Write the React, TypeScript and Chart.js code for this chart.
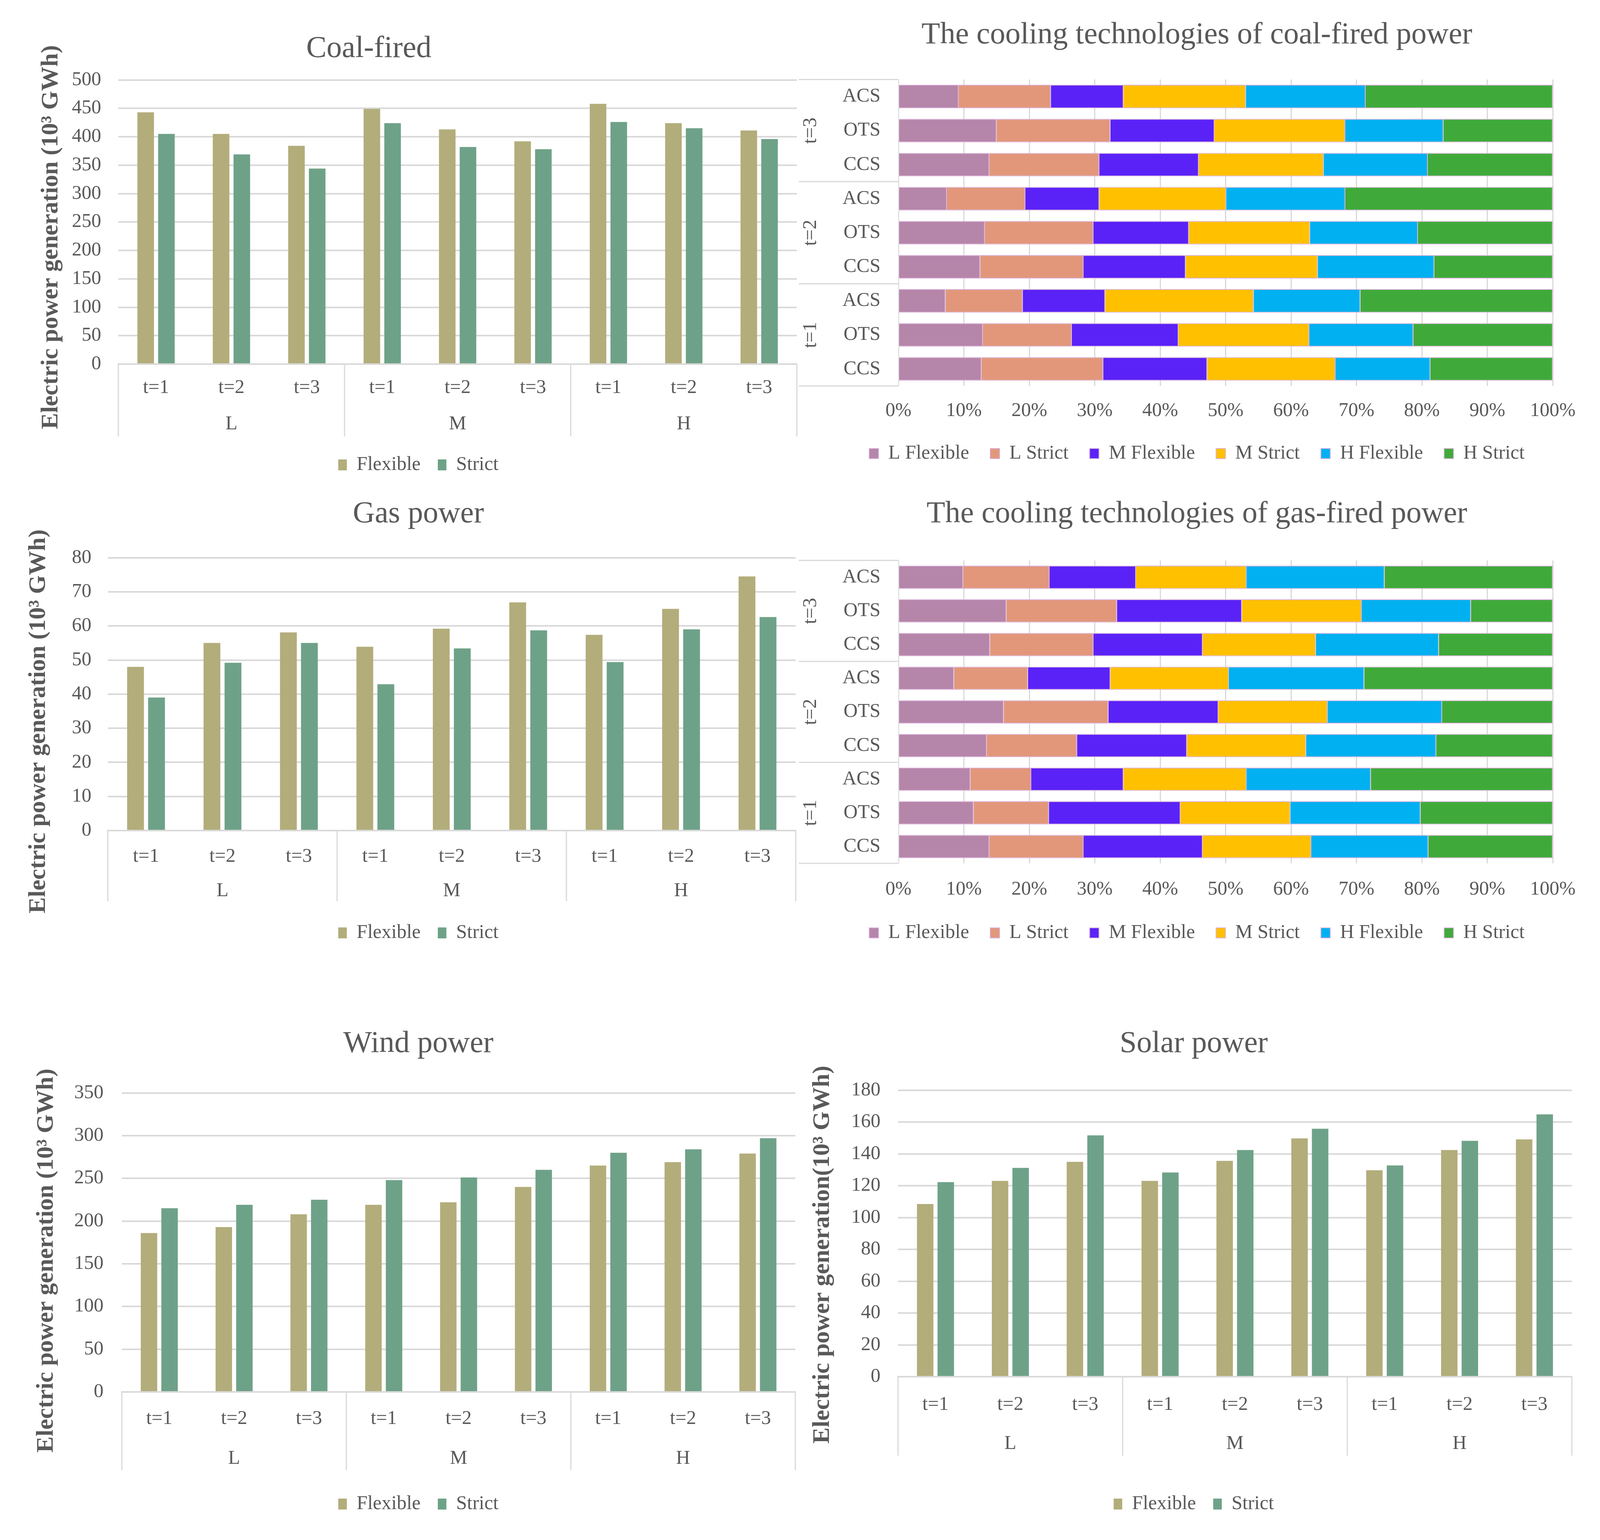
import React, { useRef, useEffect } from 'react';
import { Chart, registerables } from 'chart.js';

Chart.register(...registerables);

const FONT = "'Liberation Serif', 'Times New Roman', serif";
const TEXT = '#595959';
const GRID = '#d9d9d9';
const FLEX_COLOR = '#b3ad7b';
const STRICT_COLOR = '#6ea288';
const COOLING_COLORS = ['#b685aa', '#e2977b', '#5a22f6', '#ffc000', '#00b0f0', '#3faa3a'];

// categories
const barLabels = ['t=1', 't=2', 't=3', 't=1', 't=2', 't=3', 't=1', 't=2', 't=3'];
const scenarios = ['L', 'M', 'H'];
const coolingRows = ['ACS', 'OTS', 'CCS', 'ACS', 'OTS', 'CCS', 'ACS', 'OTS', 'CCS'];
const coolingGroups = ['t=3', 't=2', 't=1'];
const coolingSeries = ['L Flexible', 'L Strict', 'M Flexible', 'M Strict', 'H Flexible', 'H Strict'];

// generation (10^3 GWh)
const coalFlexible = [443, 405, 384, 449, 413, 392, 458, 424, 411];
const coalStrict = [405, 369, 344, 424, 382, 378, 426, 415, 396];
const gasFlexible = [48.0, 55.0, 58.1, 53.9, 59.2, 66.9, 57.4, 65.0, 74.5];
const gasStrict = [39.0, 49.2, 55.0, 42.9, 53.4, 58.7, 49.4, 59.0, 62.6];
const windFlexible = [186, 193, 208, 219, 222, 240, 265, 269, 279];
const windStrict = [215, 219, 225, 248, 251, 260, 280, 284, 297];
const solarFlexible = [108.5, 123, 135, 123, 135.6, 149.7, 129.7, 142.4, 149.1];
const solarStrict = [122.2, 131.2, 151.6, 128.3, 142.4, 155.8, 132.7, 148.2, 164.8];

// cooling technology shares (%), rows top to bottom
const coalLFlex = [9.2, 15.0, 13.9, 7.4, 13.2, 12.5, 7.2, 12.9, 12.7];
const coalLStrict = [14.1, 17.4, 16.8, 12.0, 16.6, 15.8, 11.8, 13.6, 18.6];
const coalMFlex = [11.1, 15.9, 15.2, 11.3, 14.6, 15.6, 12.6, 16.3, 15.9];
const coalMStrict = [18.7, 20.0, 19.1, 19.4, 18.5, 20.2, 22.7, 20.0, 19.6];
const coalHFlex = [18.3, 15.0, 15.9, 18.2, 16.5, 17.8, 16.3, 15.9, 14.5];
const coalHStrict = [28.6, 16.7, 19.1, 31.7, 20.6, 18.1, 29.4, 21.3, 18.7];

const gasLFlex = [9.9, 16.5, 14.0, 8.5, 16.1, 13.5, 11.0, 11.5, 13.9];
const gasLStrict = [13.2, 16.9, 15.8, 11.3, 16.0, 13.8, 9.3, 11.5, 14.4];
const gasMFlex = [13.2, 19.1, 16.7, 12.6, 16.8, 16.8, 14.1, 20.1, 18.2];
const gasMStrict = [16.9, 18.3, 17.3, 18.1, 16.7, 18.2, 18.8, 16.8, 16.6];
const gasHFlex = [21.1, 16.7, 18.8, 20.7, 17.5, 19.9, 19.0, 19.9, 17.9];
const gasHStrict = [25.7, 12.5, 17.4, 28.8, 16.9, 17.8, 27.8, 20.2, 19.0];

// draws the outer category level (L/M/H or t=3/t=2/t=1) with separator lines
const groupAxis = {
  id: 'groupAxis',
  afterDraw(chart: any, _args: any, opts: any) {
    const groups: string[] = opts.groups;
    if (!groups || !groups.length) return;
    const { ctx, chartArea } = chart;
    const horizontal = opts.axis === 'x';
    const scale = chart.scales[opts.axis];
    const count = scale.getLabels().length;
    const per = count / groups.length;
    const edge = (i: number) => {
      if (i <= 0) return horizontal ? chartArea.left : chartArea.top;
      if (i >= count) return horizontal ? chartArea.right : chartArea.bottom;
      return (scale.getPixelForValue(i - 1) + scale.getPixelForValue(i)) / 2;
    };
    ctx.save();
    ctx.strokeStyle = GRID;
    ctx.lineWidth = 3;
    ctx.fillStyle = TEXT;
    ctx.font = `${opts.size}px ${FONT}`;
    ctx.textAlign = 'center';
    ctx.textBaseline = 'middle';
    for (let g = 0; g <= groups.length; g++) {
      const p = edge(g * per);
      ctx.beginPath();
      if (horizontal) {
        ctx.moveTo(p, chartArea.bottom);
        ctx.lineTo(p, chartArea.bottom + opts.lineLength);
      } else {
        ctx.moveTo(opts.lineStart, p);
        ctx.lineTo(chartArea.left, p);
      }
      ctx.stroke();
    }
    groups.forEach((label, g) => {
      const c = (edge(g * per) + edge((g + 1) * per)) / 2;
      if (horizontal) {
        ctx.fillText(label, c, chartArea.bottom + opts.labelOffset);
      } else {
        ctx.save();
        ctx.translate(opts.labelOffset, c);
        ctx.rotate(-Math.PI / 2);
        ctx.fillText(label, 0, 0);
        ctx.restore();
      }
    });
    ctx.restore();
  },
};

// empty right-hand axis that keeps room to the right of the plot
const spacerAxis = (width: number) => ({
  type: 'linear',
  position: 'right',
  display: true,
  ticks: { display: false },
  grid: { display: false, drawTicks: false },
  border: { display: false },
  afterFit: (s: any) => { s.width = width; },
});

interface BarLayout {
  title: string;
  yTitle: string;
  flexible: number[];
  strict: number[];
  max: number;
  step: number;
  titlePad: { top: number; bottom: number };
  yWidth: number;
  yTitlePad: number;
  yTickPad: number;
  xHeight: number;
  xTickPad: number;
  groupOffset: number;
  sepLength: number;
  rightSpace: number;
}

const makeBarConfig = (p: BarLayout) => (): any => ({
  type: 'bar',
  data: {
    labels: barLabels,
    datasets: [
      { label: 'Flexible', data: p.flexible, backgroundColor: FLEX_COLOR },
      { label: 'Strict', data: p.strict, backgroundColor: STRICT_COLOR },
    ],
  },
  options: {
    animation: false,
    responsive: true,
    maintainAspectRatio: false,
    layout: { padding: 0 },
    datasets: { bar: { categoryPercentage: 0.55, barPercentage: 0.8 } },
    plugins: {
      title: {
        display: true,
        text: p.title,
        color: TEXT,
        font: { family: FONT, size: 78, weight: 'normal' },
        padding: p.titlePad,
      },
      legend: {
        position: 'bottom',
        labels: { color: TEXT, font: { family: FONT, size: 50 }, boxWidth: 22, boxHeight: 28, padding: 44 },
      },
      tooltip: { enabled: false },
      groupAxis: { axis: 'x', groups: scenarios, size: 50, labelOffset: p.groupOffset, lineLength: p.sepLength },
    },
    scales: {
      x: {
        ticks: { color: TEXT, font: { family: FONT, size: 50 }, padding: p.xTickPad, autoSkip: false, maxRotation: 0 },
        grid: { display: false, drawTicks: false },
        border: { display: true, color: GRID, width: 4 },
        afterFit: (s: any) => { s.height = p.xHeight; },
      },
      y: {
        min: 0,
        max: p.max,
        ticks: { stepSize: p.step, color: TEXT, font: { family: FONT, size: 50 }, padding: p.yTickPad },
        grid: { color: GRID, lineWidth: 4, drawTicks: false },
        border: { display: false },
        title: {
          display: true,
          text: p.yTitle,
          color: TEXT,
          font: { family: FONT, size: 62, weight: 'bold' },
          padding: { top: p.yTitlePad, bottom: 0 },
        },
        afterFit: (s: any) => { s.width = p.yWidth; },
      },
      spacer: spacerAxis(p.rightSpace),
    },
  },
  plugins: [groupAxis],
});

interface CoolingLayout {
  title: string;
  series: number[][];
  titlePad: { top: number; bottom: number };
  xHeight: number;
  xTickPad: number;
}

const makeCoolingConfig = (p: CoolingLayout) => (): any => ({
  type: 'bar',
  data: {
    labels: coolingRows,
    datasets: coolingSeries.map((name, i) => ({
      label: name,
      data: p.series[i],
      backgroundColor: COOLING_COLORS[i],
      borderColor: '#dbb3dc',
      borderWidth: 2,
    })),
  },
  options: {
    animation: false,
    responsive: true,
    maintainAspectRatio: false,
    indexAxis: 'y',
    layout: { padding: 0 },
    datasets: { bar: { categoryPercentage: 1, barPercentage: 0.69 } },
    plugins: {
      title: {
        display: true,
        text: p.title,
        color: TEXT,
        font: { family: FONT, size: 78, weight: 'normal' },
        padding: p.titlePad,
      },
      legend: {
        position: 'bottom',
        labels: { color: TEXT, font: { family: FONT, size: 50 }, boxWidth: 24, boxHeight: 26, padding: 54 },
      },
      tooltip: { enabled: false },
      groupAxis: { axis: 'y', groups: coolingGroups, size: 50, labelOffset: 31, lineStart: 0 },
    },
    scales: {
      x: {
        stacked: true,
        min: 0,
        max: 100,
        ticks: {
          stepSize: 10,
          color: TEXT,
          font: { family: FONT, size: 50 },
          padding: p.xTickPad,
          callback: (v: any) => `${v}%`,
        },
        grid: { color: GRID, lineWidth: 3, drawTicks: false },
        border: { display: false },
        afterFit: (s: any) => { s.height = p.xHeight; },
      },
      y: {
        stacked: true,
        ticks: { color: TEXT, font: { family: FONT, size: 50 }, padding: 46 },
        grid: { display: false, drawTicks: false },
        border: { display: true, color: '#e6e6e6', width: 2 },
        afterFit: (s: any) => { s.width = 255; },
      },
      spacer: spacerAxis(108),
    },
  },
  plugins: [groupAxis],
});

const coalConfig = makeBarConfig({
  title: 'Coal-fired             ',
  yTitle: 'Electric power generation (10³ GWh)     ',
  flexible: coalFlexible,
  strict: coalStrict,
  max: 500,
  step: 50,
  titlePad: { top: 79, bottom: 32 },
  yWidth: 303,
  yTitlePad: 94,
  yTickPad: 44,
  xHeight: 189,
  xTickPad: 31,
  groupOffset: 154,
  sepLength: 185,
  rightSpace: 102,
});

const gasConfig = makeBarConfig({
  title: 'Gas power',
  yTitle: 'Electric power generation (10³ GWh)         ',
  flexible: gasFlexible,
  strict: gasStrict,
  max: 80,
  step: 10,
  titlePad: { top: 79, bottom: 64 },
  yWidth: 276,
  yTitlePad: 62,
  yTickPad: 42,
  xHeight: 193,
  xTickPad: 37,
  groupOffset: 155,
  sepLength: 181,
  rightSpace: 105,
});

const windConfig = makeBarConfig({
  title: 'Wind power',
  yTitle: 'Electric power generation (10³ GWh)      ',
  flexible: windFlexible,
  strict: windStrict,
  max: 350,
  step: 50,
  titlePad: { top: 79, bottom: 78 },
  yWidth: 312,
  yTitlePad: 82,
  yTickPad: 47,
  xHeight: 218,
  xTickPad: 39,
  groupOffset: 171,
  sepLength: 200,
  rightSpace: 106,
});

const solarConfig = makeBarConfig({
  title: 'Solar power',
  yTitle: 'Electric power generation(10³ GWh)       ',
  flexible: solarFlexible,
  strict: solarStrict,
  max: 180,
  step: 20,
  titlePad: { top: 79, bottom: 71 },
  yWidth: 299,
  yTitlePad: 69,
  yTickPad: 45,
  xHeight: 257,
  xTickPad: 42,
  groupOffset: 172,
  sepLength: 202,
  rightSpace: 88,
});

const coalCoolingConfig = makeCoolingConfig({
  title: 'The cooling technologies of coal-fired power',
  series: [coalLFlex, coalLStrict, coalMFlex, coalMStrict, coalHFlex, coalHStrict],
  titlePad: { top: 44, bottom: 66 },
  xHeight: 94,
  xTickPad: 34,
});

const gasCoolingConfig = makeCoolingConfig({
  title: 'The cooling technologies of gas-fired power',
  series: [gasLFlex, gasLStrict, gasMFlex, gasMStrict, gasHFlex, gasHStrict],
  titlePad: { top: 44, bottom: 71 },
  xHeight: 99,
  xTickPad: 37,
});

interface PanelProps {
  left: number;
  top: number;
  width: number;
  height: number;
  build: () => any;
}

const ChartPanel: React.FC<PanelProps> = ({ left, top, width, height, build }) => {
  const canvasRef = useRef<HTMLCanvasElement>(null);

  useEffect(() => {
    if (!canvasRef.current) return;
    const chart = new Chart(canvasRef.current, build());
    return () => {
      chart.destroy();
    };
  }, [build]);

  return (
    <div style={{ position: 'absolute', left, top, width, height }}>
      <canvas ref={canvasRef} />
    </div>
  );
};

export default function App() {
  return (
    <div style={{ position: 'absolute', left: 0, top: 0, width: 4117, height: 3942, background: '#fff', overflow: 'hidden' }}>
      <ChartPanel left={0} top={0} width={2142} height={1225} build={coalConfig} />
      <ChartPanel left={2045} top={0} width={2038} height={1196} build={coalCoolingConfig} />
      <ChartPanel left={0} top={1191} width={2142} height={1232} build={gasConfig} />
      <ChartPanel left={2045} top={1226} width={2038} height={1197} build={gasCoolingConfig} />
      <ChartPanel left={0} top={2547} width={2142} height={1338} build={windConfig} />
      <ChartPanel left={2000} top={2547} width={2112} height={1338} build={solarConfig} />
    </div>
  );
}
